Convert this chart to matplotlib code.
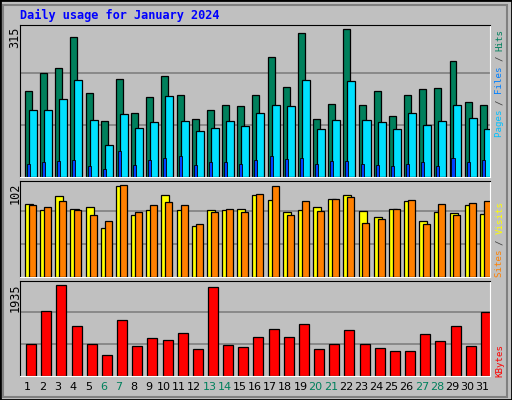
import matplotlib
matplotlib.use("Agg")
import matplotlib.pyplot as plt
from matplotlib.patches import Rectangle
import numpy as np

days = list(range(1, 32))
weekend = [6, 7, 13, 14, 20, 21, 27, 28]
hits = [182,220,231,297,178,120,209,135,171,214,175,124,143,154,150,175,256,192,305,124,156,314,154,182,129,175,188,190,246,160,154]
files = [143,143,165,207,122,67,133,105,116,173,118,97,105,120,109,135,152,150,207,101,122,205,122,116,101,135,111,118,152,126,101]
pages = [28,31,35,37,24,16,56,26,37,41,45,26,31,31,28,37,45,39,41,28,33,35,28,26,24,28,31,24,41,31,37]
sites = [81,74,89,75,77,54,100,68,74,90,74,56,74,74,75,90,85,72,74,77,86,90,73,66,75,84,62,72,71,80,70]
visits = [79,77,84,74,69,62,102,72,80,83,80,58,72,75,72,92,101,69,84,73,86,88,60,64,75,85,58,81,69,82,84]
kbytes = [685,1384,1935,1066,685,452,1193,642,812,770,918,579,1892,664,621,833,1003,833,1108,579,685,981,685,600,537,537,897,748,1066,642,1362]

GRAY = "#C0C0C0"
W, H = 512, 400
fig = plt.figure(figsize=(5.12, 4.0), dpi=100, facecolor=GRAY)
x = np.array(days)

def mkax(top, bot):
    ax = fig.add_axes([20/W, 1-bot/H, 470/W, (bot-top)/H])
    ax.set_facecolor(GRAY)
    ax.set_xlim(0.5, 31.5)
    for s in ("left", "top"):
        ax.spines[s].set_color("black")
    for s in ("right", "bottom"):
        ax.spines[s].set_color("white")
    ax.set_yticks([]); ax.tick_params(length=0)
    ax.set_xticks([])
    return ax

def gridlines(ax, top):
    for g in (top/3, 2*top/3):
        ax.axhline(g, color="#808080", lw=1.2, zorder=0)

ax1 = mkax(25, 177)
ax1.set_ylim(0, 323); gridlines(ax1, 330)
ax1.bar(x-0.17, hits, width=0.46, align="edge", color="#00805C", edgecolor="black", lw=0.9, zorder=2)
ax1.bar(x+0.09, files, width=0.53, align="edge", color="#00E0FF", edgecolor="black", lw=0.9, zorder=3)
ax1.bar(x-0.04, pages, width=0.2, align="edge", color="#0040FF", edgecolor="black", lw=0.6, zorder=4)

ax2 = mkax(181, 277)
ax2.set_ylim(0, 106); gridlines(ax2, 109)
ax2.bar(x-0.17, sites, width=0.53, align="edge", color="#FFFF00", edgecolor="black", lw=0.9, zorder=2)
ax2.bar(x+0.09, visits, width=0.46, align="edge", color="#FF8000", edgecolor="black", lw=0.9, zorder=3)

ax3 = mkax(281, 376)
ax3.set_ylim(0, 2013); gridlines(ax3, 2050)
ax3.bar(x-0.1, kbytes, width=0.66, align="edge", color="#FF0000", edgecolor="black", lw=0.9, zorder=2)
ax3.set_xticks(days)
ax3.set_xticklabels([str(d) for d in days], fontsize=8, family="DejaVu Sans")
for lab, d in zip(ax3.get_xticklabels(), days):
    lab.set_color("#00805C" if d in weekend else "black")
ax3.tick_params(axis="x", pad=4)

def ft(px, py, s, **kw):
    fig.text(px/W, 1-py/H, s, **kw)

ft(20, 15, "Daily usage for January 2024", color="#0000FF", fontsize=8.6,
   family="DejaVu Sans Mono", weight="bold", va="center")
for py, s in ((27, "315"), (183, "102"), (283, "1935")):
    ft(15, py, s, rotation=90, fontsize=8.5, va="top", ha="center", family="DejaVu Sans Mono")

CW = 5.4
def rlabel(start, parts):
    py = start
    for s, c in parts:
        ft(500, py, s, rotation=90, color=c, fontsize=6.6, va="bottom", ha="center",
           family="DejaVu Sans Mono", rotation_mode="anchor" if False else "default")
        py -= CW * len(s)

rlabel(137, [("Pages ", "#00C0FF"), ("/ ", "#404040"), ("Files ", "#0080FF"),
             ("/ ", "#404040"), ("Hits", "#00805C")])
rlabel(277, [("Sites ", "#FF8000"), ("/ ", "#404040"), ("Visits", "#FFFF00")])
rlabel(377, [("KBytes", "#FF0000")])

fig.patches.append(Rectangle((0, 0), 1, 1, transform=fig.transFigure, fill=False,
                             edgecolor="black", lw=2))
fig.patches.append(Rectangle((3/W, 3/H), 1-8/W, 1-8/H, transform=fig.transFigure, fill=False,
                             edgecolor="#808080", lw=1.5))

fig.savefig("out.png", dpi=100, facecolor=GRAY)
